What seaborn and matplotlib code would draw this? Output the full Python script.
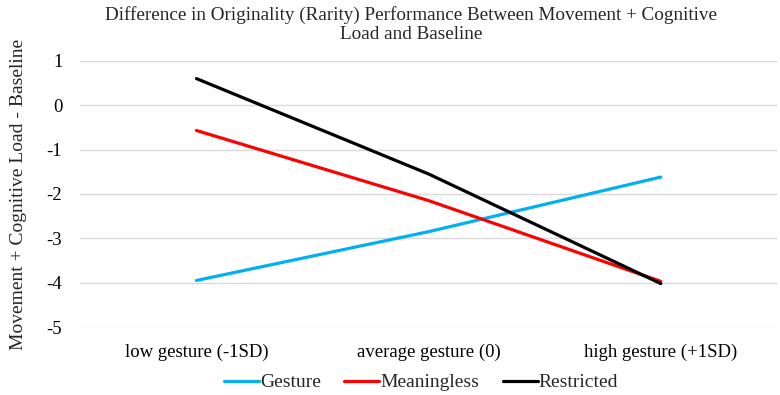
import pandas as pd
import seaborn as sns
import matplotlib.pyplot as plt

categories = ["low gesture (-1SD)", "average gesture (0)", "high gesture (+1SD)"]
gesture = [-3.95, -2.85, -1.62]
meaningless = [-0.57, -2.15, -3.97]
restricted = [0.60, -1.55, -4.02]

rows = []
for name, vals in [("Gesture", gesture), ("Meaningless", meaningless), ("Restricted", restricted)]:
    for cat, v in zip(categories, vals):
        rows.append({"level": cat, "value": v, "condition": name})
df = pd.DataFrame(rows)

sns.set_style("white")
plt.rcParams['font.family'] = ['Liberation Serif', 'DejaVu Serif']
plt.rcParams['axes.unicode_minus'] = False

fig = plt.figure(figsize=(7.8, 3.95), dpi=100)
ax = fig.add_axes([0.103, 0.172, 0.893, 0.674])

palette = {"Gesture": "#00B0F0", "Meaningless": "#FF0000", "Restricted": "#000000"}
sns.lineplot(data=df, x="level", y="value", hue="condition", palette=palette,
             linewidth=2.3, sort=False, ax=ax, legend=True, zorder=3)

ax.set_ylim(-5, 1)
ax.set_xlim(-0.5, 2.5)
ax.set_yticks(range(-5, 2))
ax.grid(axis="y", color="#D9D9D9", linewidth=1)
ax.grid(axis="x", visible=False)
for s in ax.spines.values():
    s.set_visible(False)
ax.tick_params(axis="both", length=0, labelsize=13.5, colors="#000000")
ax.tick_params(axis="x", pad=12)
ax.tick_params(axis="y", pad=13)
ax.set_xlabel("")
ax.set_ylabel("Movement + Cognitive Load - Baseline", fontsize=14, labelpad=14)
ax.set_title("Difference in Originality (Rarity) Performance Between Movement + Cognitive\nLoad and Baseline",
             fontsize=13.8, pad=16, loc="center", x=0.475, linespacing=1.1)

handles, labels = ax.get_legend_handles_labels()
ax.get_legend().remove()
fig.legend(handles, labels, loc="lower center", bbox_to_anchor=(0.54, -0.035), ncol=3,
           frameon=False, fontsize=14, handlelength=1.8, handletextpad=0.05,
           columnspacing=1.2)

fig.savefig("out.png", dpi=100)
